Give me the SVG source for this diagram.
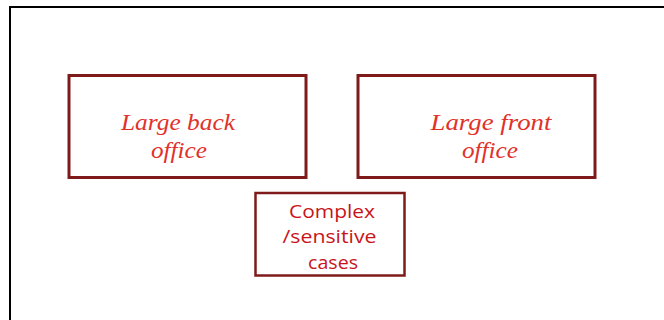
<svg xmlns="http://www.w3.org/2000/svg" width="664" height="320" viewBox="0 0 664 320">
<style>
.frame{fill:none;stroke:#000;stroke-width:2}
.box{fill:#fff;stroke:#7F1A1A;stroke-width:3}
.box2{fill:#fff;stroke:#7F1A1A;stroke-width:2.5}
.it{font-family:"Liberation Serif","DejaVu Serif",serif;font-style:italic;font-size:23px;fill:#E0322A;text-anchor:middle}
.sans{font-family:"Open Sans","Liberation Sans",sans-serif;font-size:19px;fill:#C8141A;text-anchor:middle}
</style>
<rect width="664" height="320" fill="#fff"/>
<path class="frame" d="M10,320 V7 H664"/>
<g id="back-office">
<rect class="box" x="69" y="75.5" width="237" height="102"/>
<text class="it" x="178" y="130" textLength="114" lengthAdjust="spacingAndGlyphs">Large back</text>
<text class="it" x="179" y="158" textLength="56" lengthAdjust="spacingAndGlyphs">office</text>
</g>
<g id="front-office">
<rect class="box" x="358" y="75.5" width="237" height="102"/>
<text class="it" x="491" y="130" textLength="121" lengthAdjust="spacingAndGlyphs">Large front</text>
<text class="it" x="490" y="158" textLength="56" lengthAdjust="spacingAndGlyphs">office</text>
</g>
<g id="complex-cases">
<rect class="box2" x="255.5" y="193" width="149" height="82.5"/>
<text class="sans" x="332" y="217.5" textLength="86" lengthAdjust="spacingAndGlyphs">Complex</text>
<text class="sans" x="329.5" y="243" textLength="94" lengthAdjust="spacingAndGlyphs">/sensitive</text>
<text class="sans" x="333" y="268.5" textLength="50" lengthAdjust="spacingAndGlyphs">cases</text>
</g>
<g id="connectors"/>
</svg>
